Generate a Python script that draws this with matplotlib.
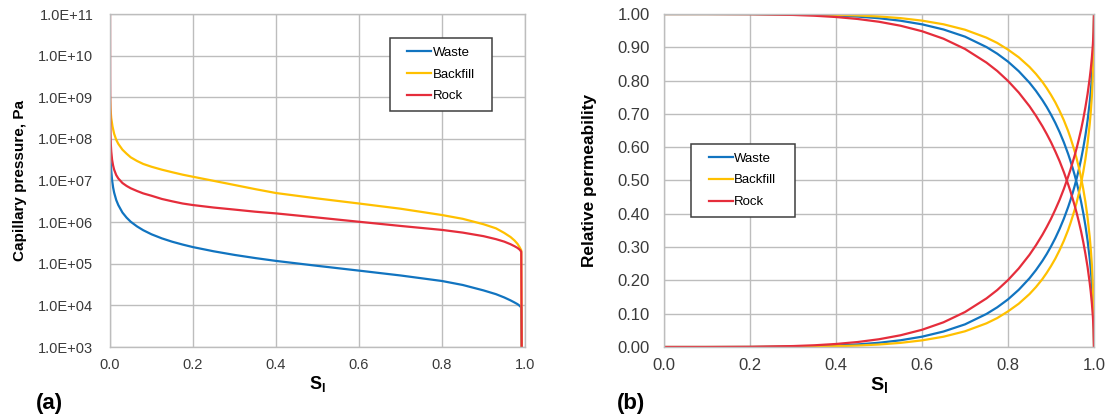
import matplotlib
matplotlib.use("Agg")
import matplotlib.pyplot as plt
from matplotlib.patches import Rectangle
from matplotlib.ticker import FixedLocator, FuncFormatter, NullLocator

plt.rcParams["font.family"] = ["Liberation Sans", "DejaVu Sans"]
plt.rcParams["mathtext.fontset"] = "custom"
plt.rcParams["mathtext.rm"] = "Liberation Sans"
plt.rcParams["mathtext.bf"] = "Liberation Sans:bold"
plt.rcParams["mathtext.it"] = "Liberation Sans:italic"

# ---------------- data ----------------
materials = ["Waste", "Backfill", "Rock"]
colors = ["#1174C0", "#FFC000", "#E52D3B"]

# (a) capillary pressure [Pa] versus liquid saturation
s_pc_waste = [0.0, 0.001, 0.002, 0.003, 0.005, 0.0075, 0.01, 0.015, 0.02, 0.03,
              0.04, 0.05, 0.065, 0.08, 0.1, 0.125, 0.15, 0.175, 0.2, 0.25,
              0.3, 0.35, 0.4, 0.5, 0.6, 0.7, 0.8, 0.85, 0.9, 0.93,
              0.95, 0.965, 0.975, 0.982, 0.987, 0.991, 0.992]
pc_waste = [4.0e7, 3.3e7, 2.5e7, 1.7e7, 1.02e7, 6.8e6, 5.1e6, 3.4e6, 2.57e6, 1.7e6,
            1.28e6, 1.02e6, 7.9e5, 6.4e5, 5.1e5, 4.07e5, 3.38e5, 2.89e5, 2.51e5, 1.99e5,
            1.63e5, 1.37e5, 1.17e5, 8.9e4, 6.84e4, 5.23e4, 3.85e4, 3.09e4, 2.29e4, 1.86e4,
            1.55e4, 1.32e4, 1.17e4, 1.07e4, 9.8e3, 8.9e3, 1.0e3]

s_pc_backfill = [0.0, 0.001, 0.003, 0.006, 0.01, 0.015, 0.02, 0.03, 0.04, 0.05,
                 0.065, 0.08, 0.1, 0.125, 0.15, 0.175, 0.2, 0.25, 0.3, 0.35,
                 0.4, 0.5, 0.6, 0.7, 0.8, 0.85, 0.9, 0.93, 0.95, 0.965,
                 0.975, 0.982, 0.987, 0.991, 0.992]
pc_backfill = [1.0e9, 5.6e8, 3.16e8, 2.0e8, 1.32e8, 9.5e7, 7.6e7, 5.5e7, 4.4e7, 3.6e7,
               2.95e7, 2.5e7, 2.14e7, 1.82e7, 1.58e7, 1.38e7, 1.23e7, 9.8e6, 7.8e6, 6.2e6,
               5.0e6, 3.7e6, 2.8e6, 2.1e6, 1.48e6, 1.2e6, 8.9e5, 7.1e5, 5.5e5, 4.4e5,
               3.6e5, 3.0e5, 2.5e5, 2.1e5, 1.0e3]

s_pc_rock = [0.0, 0.0002, 0.0006, 0.0012, 0.002, 0.003, 0.005, 0.0075, 0.01, 0.015,
             0.02, 0.03, 0.04, 0.05, 0.065, 0.08, 0.1, 0.125, 0.15, 0.175,
             0.2, 0.25, 0.3, 0.35, 0.4, 0.5, 0.6, 0.7, 0.8, 0.85,
             0.9, 0.93, 0.95, 0.965, 0.975, 0.982, 0.987, 0.991, 0.992]
pc_rock = [1.0e11, 3.2e9, 4.0e8, 1.41e8, 7.4e7, 5.0e7, 3.16e7, 2.29e7, 1.82e7, 1.35e7,
           1.12e7, 8.7e6, 7.4e6, 6.5e6, 5.6e6, 4.9e6, 4.3e6, 3.6e6, 3.16e6, 2.8e6,
           2.57e6, 2.24e6, 2.0e6, 1.78e6, 1.62e6, 1.29e6, 1.02e6, 8.1e5, 6.5e5, 5.6e5,
           4.6e5, 3.9e5, 3.4e5, 2.95e5, 2.63e5, 2.4e5, 2.19e5, 1.95e5, 1.0e3]

# (b) relative permeability of liquid and gas versus liquid saturation
s_kr = [0.0, 0.1, 0.2, 0.3, 0.35, 0.4, 0.45, 0.5, 0.55, 0.6,
        0.65, 0.7, 0.75, 0.775, 0.8, 0.825, 0.85, 0.865, 0.88, 0.89,
        0.9, 0.91, 0.92, 0.93, 0.94, 0.945, 0.95, 0.955, 0.96, 0.965,
        0.97, 0.975, 0.98, 0.985, 0.99, 0.9925, 0.995, 0.9975, 0.999, 1.0]

krl_waste = [0.0, 0.0, 0.0002, 0.0012, 0.0024, 0.0044, 0.0077, 0.0127, 0.0202, 0.031,
             0.0465, 0.068, 0.0993, 0.1192, 0.143, 0.1718, 0.2064, 0.2309, 0.2586, 0.2792,
             0.302, 0.3269, 0.3547, 0.3857, 0.4208, 0.4402, 0.461, 0.4835, 0.508, 0.5347,
             0.564, 0.5974, 0.635, 0.6795, 0.734, 0.7676, 0.808, 0.8626, 0.912, 1.0]
krg_waste = [1.0, 1.0, 0.9998, 0.9988, 0.9976, 0.9956, 0.9923, 0.9873, 0.9798, 0.969,
             0.9535, 0.932, 0.9007, 0.8808, 0.857, 0.8282, 0.7936, 0.7691, 0.7414, 0.7208,
             0.698, 0.6731, 0.6453, 0.6143, 0.5792, 0.5598, 0.539, 0.5165, 0.492, 0.4653,
             0.436, 0.4026, 0.365, 0.3205, 0.266, 0.2324, 0.192, 0.1374, 0.088, 0.0]

krl_backfill = [0.0, 0.0, 0.0001, 0.0006, 0.0012, 0.0024, 0.0043, 0.0075, 0.0124, 0.0199,
                0.0309, 0.0472, 0.0711, 0.0869, 0.107, 0.130, 0.159, 0.180, 0.204, 0.2226,
                0.243, 0.2653, 0.291, 0.3194, 0.352, 0.3707, 0.391, 0.4123, 0.436, 0.4625,
                0.492, 0.5255, 0.564, 0.6108, 0.669, 0.7062, 0.752, 0.8152, 0.876, 1.0]
krg_backfill = [1.0, 1.0, 0.9999, 0.9994, 0.9988, 0.9976, 0.9957, 0.9925, 0.9876, 0.9801,
                0.9691, 0.9528, 0.9289, 0.9131, 0.893, 0.870, 0.841, 0.820, 0.796, 0.7774,
                0.757, 0.7347, 0.709, 0.6806, 0.648, 0.6293, 0.609, 0.5877, 0.564, 0.5375,
                0.508, 0.4745, 0.436, 0.3892, 0.331, 0.2938, 0.248, 0.1848, 0.124, 0.0]

krl_rock = [0.0, 0.0, 0.0005, 0.0028, 0.0052, 0.0091, 0.0149, 0.0233, 0.0352, 0.0517,
            0.0742, 0.105, 0.146, 0.1711, 0.201, 0.2359, 0.277, 0.3055, 0.337, 0.3602,
            0.385, 0.4126, 0.442, 0.4752, 0.512, 0.5315, 0.553, 0.575, 0.599, 0.6251,
            0.653, 0.6846, 0.720, 0.7593, 0.807, 0.8349, 0.868, 0.9104, 0.947, 1.0]
krg_rock = [1.0, 1.0, 0.9995, 0.9972, 0.9948, 0.9909, 0.9851, 0.9767, 0.9648, 0.9483,
            0.9258, 0.895, 0.854, 0.8289, 0.799, 0.7641, 0.723, 0.6945, 0.663, 0.6398,
            0.615, 0.5874, 0.558, 0.5248, 0.488, 0.4685, 0.447, 0.425, 0.401, 0.3749,
            0.347, 0.3154, 0.280, 0.2407, 0.193, 0.1651, 0.132, 0.0896, 0.053, 0.0]

x_ticks = [0.0, 0.2, 0.4, 0.6, 0.8, 1.0]
pc_ticks = [1e3, 1e4, 1e5, 1e6, 1e7, 1e8, 1e9, 1e10, 1e11]
kr_ticks = [0.0, 0.1, 0.2, 0.3, 0.4, 0.5, 0.6, 0.7, 0.8, 0.9, 1.0]

# ---------------- figure ----------------
W, H = 1106, 419
fig = plt.figure(figsize=(W / 100, H / 100), dpi=100)

def px_axes(x0, x1, ytop, ybot):
    return fig.add_axes([x0 / W, 1 - ybot / H, (x1 - x0) / W, (ybot - ytop) / H])

ax1 = px_axes(110, 525, 14, 347)
ax2 = px_axes(664, 1094, 14, 347)

grid_c = "#bdbdbd"
tick_c = "#3a3a3a"
lw = 1.6

def style(ax, size):
    ax.set_axisbelow(True)
    ax.grid(True, color=grid_c, linewidth=1.0)
    for sp in ax.spines.values():
        sp.set_color(grid_c)
        sp.set_linewidth(1.0)
    ax.tick_params(length=0, labelsize=size, labelcolor=tick_c)
    ax.set_xlim(0, 1)
    ax.xaxis.set_major_locator(FixedLocator(x_ticks))
    ax.xaxis.set_major_formatter(FuncFormatter(lambda v, p: f"{v:.1f}"))
    ax.tick_params(axis="x", pad=8)

def framed_legend(ax, handles, box):
    x0, y0, x1, y1 = box
    ax.add_patch(Rectangle((x0, y0), x1 - x0, y1 - y0, transform=ax.transAxes,
                           facecolor="white", edgecolor="#3f3f3f", linewidth=1.1, zorder=4))
    ax.legend(handles, materials, loc="center", bbox_to_anchor=((x0 + x1) / 2, (y0 + y1) / 2),
              frameon=False, fontsize=9.5, handlelength=1.8, handletextpad=0.12,
              labelspacing=0.72, borderpad=0.0, borderaxespad=0.0).set_zorder(5)

# (a) capillary pressure
style(ax1, 10.5)
ax1.set_yscale("log")
ax1.set_ylim(1e3, 1e11)
ax1.yaxis.set_major_locator(FixedLocator(pc_ticks))
ax1.yaxis.set_minor_locator(NullLocator())
ax1.yaxis.set_major_formatter(FuncFormatter(lambda v, p: f"{v:.1E}"))
ax1.tick_params(axis="y", pad=12)
h1 = []
for s, pc, c in zip([s_pc_waste, s_pc_backfill, s_pc_rock],
                    [pc_waste, pc_backfill, pc_rock], colors):
    h1.append(ax1.plot(s, pc, color=c, linewidth=lw, solid_joinstyle="round")[0])
ax1.set_ylabel("Capillary pressure, Pa", fontsize=11, fontweight="bold")
ax1.yaxis.set_label_coords(-0.2, 0.5)
ax1.set_xlabel(r"$\mathbf{S_l}$", fontsize=13)
ax1.xaxis.set_label_coords(0.5, -0.08)
framed_legend(ax1, h1, (0.675, 0.709, 0.92, 0.928))

# (b) relative permeability
style(ax2, 12)
ax2.set_ylim(0, 1)
ax2.yaxis.set_major_locator(FixedLocator(kr_ticks))
ax2.yaxis.set_major_formatter(FuncFormatter(lambda v, p: f"{v:.2f}"))
ax2.tick_params(axis="y", pad=10)
h2 = []
for krl, krg, c in zip([krl_waste, krl_backfill, krl_rock],
                       [krg_waste, krg_backfill, krg_rock], colors):
    h2.append(ax2.plot(s_kr, krl, color=c, linewidth=lw, solid_joinstyle="round")[0])
    ax2.plot(s_kr, krg, color=c, linewidth=lw, solid_joinstyle="round")
ax2.set_ylabel("Relative permeability", fontsize=12.4, fontweight="bold")
ax2.yaxis.set_label_coords(-0.156, 0.5)
ax2.set_xlabel(r"$\mathbf{S_l}$", fontsize=14)
ax2.xaxis.set_label_coords(0.5, -0.085)
framed_legend(ax2, h2, (0.062, 0.391, 0.304, 0.61))

fig.text(36 / W, 1 - 403 / H, "(a)", fontsize=16, fontweight="bold", va="center", ha="left")
fig.text(617 / W, 1 - 403 / H, "(b)", fontsize=16, fontweight="bold", va="center", ha="left")

fig.savefig("out.png", dpi=100, facecolor="white")
